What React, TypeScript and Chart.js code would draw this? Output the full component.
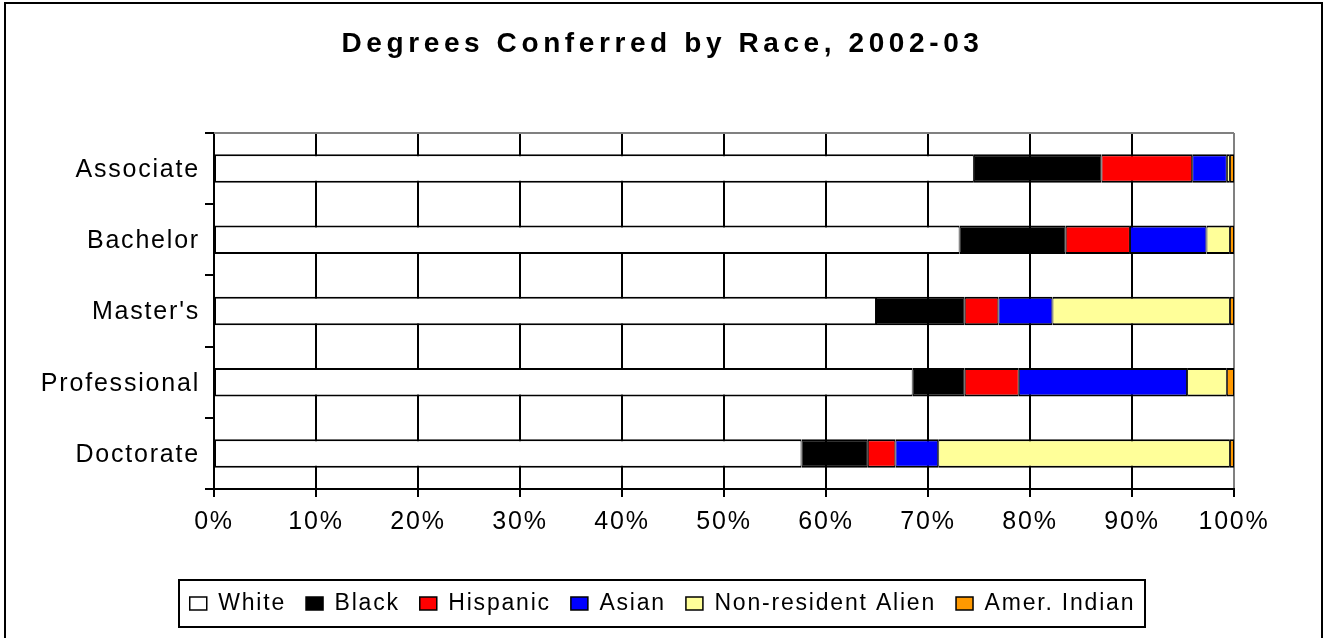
import React, { useEffect, useRef } from 'react';
import { Chart, registerables } from 'chart.js';

Chart.register(...registerables);

// Degree levels (top to bottom) and each group's share of degrees, in percent.
const categories = ['Associate', 'Bachelor', "Master's", 'Professional', 'Doctorate'];
const white = [74.5, 73.1, 64.9, 68.5, 57.6];
const black = [12.5, 10.4, 8.7, 5.1, 6.5];
const hispanic = [8.9, 6.3, 3.3, 5.3, 2.7];
const asian = [3.4, 7.5, 5.3, 16.5, 4.2];
const nonResidentAlien = [0.3, 2.3, 17.4, 3.9, 28.6];
const amerIndian = [0.4, 0.4, 0.4, 0.7, 0.4];

const seriesNames = ['White', 'Black', 'Hispanic', 'Asian', 'Non-resident Alien', 'Amer. Indian'];
const seriesValues = [white, black, hispanic, asian, nonResidentAlien, amerIndian];
const seriesColors = ['#FFFFFF', '#000000', '#FF0000', '#0000FF', '#FFFF99', '#FF9900'];

const TITLE = 'Degrees Conferred by Race, 2002-03';
const FONT = "'Liberation Sans', Arial, Helvetica, sans-serif";
const TEXT_SPACING = '1.8px';
const TITLE_SPACING = '4.6px';

// Outer frame, plot-area top edge, legend frame and letter spacing.
const chartFrame = {
  id: 'chartFrame',
  beforeUpdate(chart: any) {
    chart.ctx.letterSpacing = TEXT_SPACING;
  },
  beforeDraw(chart: any) {
    chart.ctx.letterSpacing = TEXT_SPACING;
    const block = chart.titleBlock;
    if (block && !block.__spaced) {
      const draw = block.draw.bind(block);
      block.draw = (...args: any[]) => {
        const ctx = chart.ctx;
        ctx.save();
        ctx.letterSpacing = TITLE_SPACING;
        draw(...args);
        ctx.restore();
      };
      block.__spaced = true;
    }
  },
  afterDatasetsDraw(chart: any) {
    const { ctx, chartArea } = chart;
    ctx.save();
    ctx.strokeStyle = '#808080';
    ctx.lineWidth = 2;
    ctx.beginPath();
    ctx.moveTo(chartArea.left, chartArea.top);
    ctx.lineTo(chartArea.right, chartArea.top);
    ctx.stroke();
    ctx.restore();
  },
  afterDraw(chart: any) {
    const { ctx } = chart;
    ctx.save();
    ctx.strokeStyle = '#000';
    ctx.lineWidth = 2;
    ctx.strokeRect(5, 3, 1317, 700);

    const boxes = chart.legend?.legendHitBoxes || [];
    if (boxes.length) {
      let minX = Infinity;
      let maxX = -Infinity;
      let top = Infinity;
      let bottom = -Infinity;
      for (const b of boxes) {
        minX = Math.min(minX, b.left);
        maxX = Math.max(maxX, b.left + b.width);
        top = Math.min(top, b.top);
        bottom = Math.max(bottom, b.top + b.height);
      }
      ctx.strokeRect(Math.round(minX - 11), Math.round(top - 12), Math.round(maxX - minX + 20), Math.round(bottom - top + 24));
    }
    ctx.restore();
  },
};

export default function App() {
  const canvasRef = useRef<HTMLCanvasElement>(null);

  useEffect(() => {
    const canvas = canvasRef.current;
    if (!canvas) return;

    const datasets = seriesNames.map((name, i) => ({
      label: name,
      data: seriesValues[i],
      backgroundColor: seriesColors[i],
      borderColor: '#000000',
      borderWidth: { top: 2, bottom: 2, left: 1, right: 1 },
      borderSkipped: false as const,
      barPercentage: 0.4,
      categoryPercentage: 1,
    }));

    const chart = new Chart(canvas, {
      type: 'bar',
      data: { labels: categories, datasets },
      plugins: [chartFrame],
      options: {
        indexAxis: 'y',
        animation: false,
        responsive: false,
        events: [],
        layout: { padding: { left: 10, right: 10, top: 0, bottom: 13 } },
        scales: {
          x: {
            stacked: true,
            min: 0,
            max: 100,
            afterFit: (scale: any) => {
              scale.height = 83;
            },
            ticks: {
              stepSize: 10,
              padding: 10,
              color: '#000',
              font: { family: FONT, size: 25 },
              callback: (v: any) => `${v}%`,
            },
            grid: {
              color: (ctx: any) => (ctx.tick && ctx.tick.value === 100 ? '#808080' : '#000'),
              tickColor: '#000',
              lineWidth: 2,
              tickLength: 8,
            },
            border: { color: '#000', width: 2 },
          },
          y: {
            stacked: true,
            afterFit: (scale: any) => {
              scale.width = 204;
            },
            ticks: {
              padding: 5,
              labelOffset: 1.5,
              color: '#000',
              font: { family: FONT, size: 25 },
            },
            grid: {
              offset: true,
              drawOnChartArea: false,
              color: '#000',
              lineWidth: 2,
              tickLength: 9,
            },
            border: { color: '#000', width: 2 },
          },
          // Empty right-hand margin beside the plot area.
          yMargin: {
            type: 'category',
            position: 'right',
            afterFit: (scale: any) => {
              scale.width = 81;
            },
            ticks: { display: false },
            grid: { display: false },
            border: { display: false },
          },
        },
        plugins: {
          title: {
            display: true,
            text: TITLE,
            color: '#000',
            font: { family: FONT, size: 28, weight: 'bold' },
            padding: { top: 27, bottom: 72.4 },
          },
          legend: {
            display: true,
            position: 'bottom',
            labels: {
              color: '#000',
              font: { family: FONT, size: 23 },
              boxWidth: 17,
              boxHeight: 13,
              padding: 20,
            },
          },
          tooltip: { enabled: false },
        },
      },
    });

    return () => chart.destroy();
  }, []);

  return (
    <div style={{ position: 'absolute', left: 0, top: 0, width: 1325, height: 638, background: '#fff' }}>
      <canvas ref={canvasRef} width={1325} height={638} style={{ display: 'block' }} />
    </div>
  );
}
